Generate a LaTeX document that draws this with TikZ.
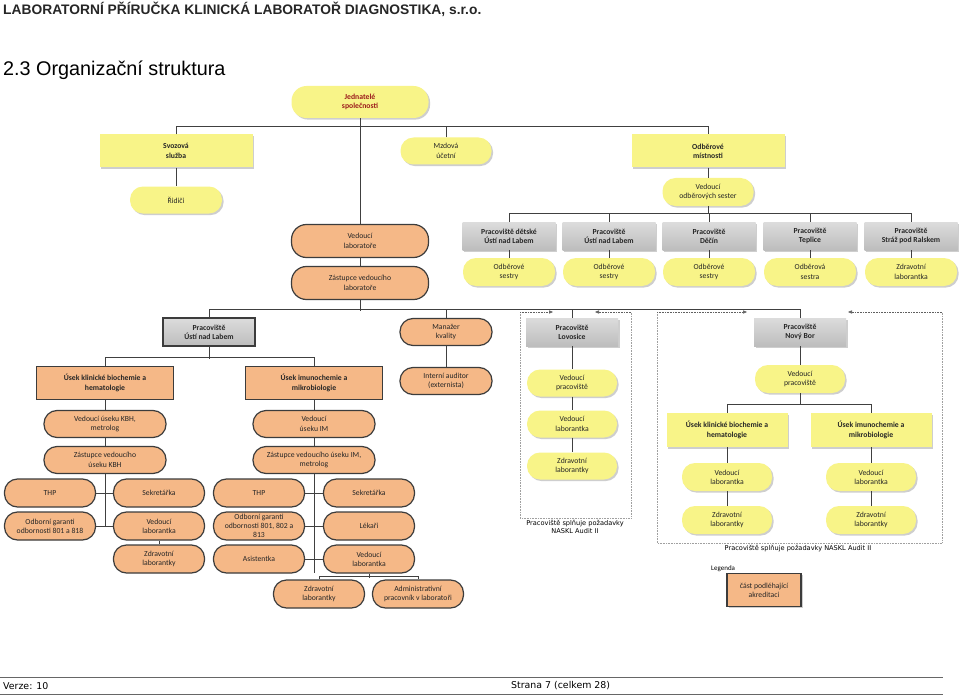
\documentclass[tikz,border=0pt]{standalone}
\usepackage{fontspec}
\setmainfont{Carlito}
\newfontfamily\hdfont{Liberation Sans}
\newfontfamily\ftfont{DejaVu Sans}
\usepackage{tikz}
\usepackage{xcolor}
\usetikzlibrary{arrows.meta,shadows}
\definecolor{yel}    {HTML}{F8F488}
\definecolor{org}    {HTML}{F5B887}
\definecolor{edge}   {HTML}{3C3C3C}
\definecolor{gtop}   {HTML}{DCDCDC}
\definecolor{gbot}   {HTML}{BDBDBD}
\definecolor{wine}   {HTML}{9C1C1C}
\definecolor{wire}   {HTML}{404040}
\definecolor{frame}  {HTML}{A0A0A0}

\tikzset{
  box/.style={align=center,inner sep=1pt,text=black!85,
              font=\fontsize{7.7}{9.3}\selectfont,
              minimum width=92pt,minimum height=28pt},
  softshadow/.style={drop shadow={shadow xshift=1.6pt,shadow yshift=-1.6pt,
              opacity=.35,fill=black!55}},
  yround/.style={box,fill=yel,rounded corners=13pt,softshadow},
  yrect/.style={box,fill=yel,font=\fontsize{7.7}{9.3}\selectfont\bfseries,softshadow},
  oround/.style={box,fill=org,draw=edge,line width=1.2pt,rounded corners=13pt},
  orect/.style={box,fill=org,draw=edge,line width=1.2pt,
              font=\fontsize{7.7}{9.3}\selectfont\bfseries},
  gfill/.style={box,top color=gtop,bottom color=gbot,
              font=\fontsize{7.7}{9.3}\selectfont\bfseries},
  gbox/.style={gfill,softshadow},
  link/.style={draw=wire,line width=0.8pt},
  dotframe/.style={draw=frame,densely dotted,line width=0.6pt},
  dotarrow/.style={dotframe,-{Triangle[length=4pt,width=3.2pt]},color=frame!60!black},
  note/.style={align=center,inner sep=0pt,font=\ftfont\fontsize{6.6}{8.4}\selectfont}
}

\begin{document}
\begin{tikzpicture}[x=1pt,y=-1pt]
\useasboundingbox[fill=white] (0,0) rectangle (960,695);

% header and title
\node[anchor=west,inner sep=0pt,text=black!85,
      font=\hdfont\bfseries\fontsize{13.8}{16}\selectfont] (hdr) at (3,9)
  {LABORATORNÍ PŘÍRUČKA KLINICKÁ LABORATOŘ DIAGNOSTIKA, s.r.o.};
\node[anchor=west,inner sep=0pt,font=\hdfont\fontsize{19.8}{23}\selectfont] (ttl) at (3,70)
  {2.3 Organizační struktura};

% top level
\node[yround,minimum width=137pt,minimum height=32pt,rounded corners=15pt,
      text=wine,font=\fontsize{7.7}{9.3}\selectfont\bfseries] (jed) at (360,102)
  {Jednatelé\\společnosti};
\node[yrect,minimum width=153pt,minimum height=33pt] (svoz) at (176,151) {Svozová\\služba};
\node[yround,minimum width=91pt,minimum height=27pt] (mzd) at (446,151) {Mzdová\\účetní};
\node[yrect,minimum width=153pt,minimum height=33pt] (odb) at (708,151) {Odběrové\\místnosti};
\node[yround,minimum height=27pt] (rid) at (176,200) {Řidiči};
\node[yround,minimum width=91pt] (vsest) at (708,192) {Vedoucí\\odběrových sester};

% odberova pracoviste
\node[gbox,minimum width=93pt] (pdet) at (509,236) {Pracoviště dětské\\Ústí nad Labem};
\node[gbox,minimum width=93pt] (pust) at (609,236) {Pracoviště\\Ústí nad Labem};
\node[gbox,minimum width=93pt] (pdec) at (709,236) {Pracoviště\\Děčín};
\node[gbox,minimum width=93pt] (ptep) at (810,236) {Pracoviště\\Teplice};
\node[gbox,minimum width=93pt] (pstr) at (911,236) {Pracoviště\\Stráž pod Ralskem};
\node[yround] (sdet) at (509,272) {Odběrové\\sestry};
\node[yround] (sust) at (609,272) {Odběrové\\sestry};
\node[yround] (sdec) at (709,272) {Odběrové\\sestry};
\node[yround] (step) at (810,272) {Odběrová\\sestra};
\node[yround] (sstr) at (911,272) {Zdravotní\\laborantka};

% laborator
\node[oround,minimum width=137pt,minimum height=33pt,rounded corners=15pt] (vlab) at (360,241)
  {Vedoucí\\laboratoře};
\node[oround,minimum width=137pt,minimum height=33pt,rounded corners=15pt] (zlab) at (360,283)
  {Zástupce vedoucího\\laboratoře};
\node[gfill,draw=edge,line width=1.2pt] (usti) at (209,332) {Pracoviště\\Ústí nad Labem};
\node[oround,minimum height=27pt] (man) at (446,332) {Manažer\\kvality};
\node[oround,minimum height=27pt] (aud) at (446,381) {Interní auditor\\(externista)};
\node[gbox] (lov) at (572,332) {Pracoviště\\Lovosice};
\node[gbox] (nbor) at (800,332) {Pracoviště\\Nový Bor};

% usti nad labem
\node[orect,minimum width=137pt,minimum height=33pt] (kbh) at (105,383)
  {Úsek klinické biochemie a\\hematologie};
\node[orect,minimum width=137pt,minimum height=33pt] (imu) at (314,383)
  {Úsek imunochemie a\\mikrobiologie};
\node[oround,minimum width=122pt,minimum height=27pt] (vkbh) at (105,424) {Vedoucí úseku KBH,\\metrolog};
\node[oround,minimum width=122pt,minimum height=27pt] (vimu) at (314,424) {Vedoucí\\úseku IM};
\node[oround,minimum width=122pt,minimum height=27pt] (zkbh) at (105,460) {Zástupce vedoucího\\úseku KBH};
\node[oround,minimum width=122pt,minimum height=27pt] (zimu) at (314,460) {Zástupce vedoucího úseku IM,\\metrolog};
\node[oround,minimum width=91pt] (thpa) at (50,493)  {THP};
\node[oround,minimum width=91pt] (seka) at (159,493) {Sekretářka};
\node[oround,minimum width=91pt] (thpb) at (259,493) {THP};
\node[oround,minimum width=91pt] (sekb) at (369,493) {Sekretářka};
\node[oround,minimum width=91pt] (oga)  at (50,526)  {Odborní garanti\\odbornosti 801 a 818};
\node[oround,minimum width=91pt] (vla)  at (159,526) {Vedoucí\\laborantka};
\node[oround,minimum width=91pt] (ogb)  at (259,526) {Odborní garanti\\odbornosti 801, 802 a\\813};
\node[oround,minimum width=91pt] (lek)  at (369,526) {Lékaři};
\node[oround,minimum width=91pt] (zla)  at (159,559) {Zdravotní\\laborantky};
\node[oround,minimum width=91pt] (asi)  at (259,559) {Asistentka};
\node[oround,minimum width=91pt] (vlb)  at (369,559) {Vedoucí\\laborantka};
\node[oround,minimum width=91pt] (zlb)  at (319,594) {Zdravotní\\laborantky};
\node[oround,minimum width=91pt] (adm)  at (418,594) {Administrativní\\pracovník v laboratoři};

% lovosice
\node[yround,minimum width=90pt,minimum height=27pt] (lovved) at (572,383) {Vedoucí\\pracoviště};
\node[yround,minimum width=90pt,minimum height=27pt] (lovvl)  at (572,424) {Vedoucí\\laborantka};
\node[yround,minimum width=90pt,minimum height=27pt] (lovzl)  at (572,466) {Zdravotní\\laborantky};

% novy bor
\node[yround,minimum width=90pt] (nbved) at (800,379) {Vedoucí\\pracoviště};
\node[yrect,minimum width=121pt,minimum height=34pt] (nbkbh) at (727,430) {Úsek klinické biochemie a\\hematologie};
\node[yrect,minimum width=121pt,minimum height=34pt] (nbimu) at (871,430) {Úsek imunochemie a\\mikrobiologie};
\node[yround,minimum width=90pt] (nbvla) at (727,477) {Vedoucí\\laborantka};
\node[yround,minimum width=90pt] (nbzla) at (727,520) {Zdravotní\\laborantky};
\node[yround,minimum width=90pt] (nbvlb) at (871,477) {Vedoucí\\laborantka};
\node[yround,minimum width=90pt] (nbzlb) at (871,520) {Zdravotní\\laborantky};

% connectors
\draw[link] (svoz.north) -- ++(0,-8) -| (odb.north);
\draw[link] (mzd.north) -- ++(0,-11);
\draw[link] (jed) -- (vlab);
\draw[link] (svoz) -- (rid);
\draw[link] (odb) -- (vsest);
\draw[link] (vsest.south) -- ++(0,8);
\draw[link] (pdet.north) -- ++(0,-8) -| (pstr.north);
\draw[link] (pust.north) -- ++(0,-8);
\draw[link] (pdec.north) -- ++(0,-8);
\draw[link] (ptep.north) -- ++(0,-8);
\draw[link] (pdet) -- (sdet);
\draw[link] (pust) -- (sust);
\draw[link] (pdec) -- (sdec);
\draw[link] (ptep) -- (step);
\draw[link] (pstr) -- (sstr);
\draw[link] (vlab) -- (zlab);
\draw[link] (zlab.south) -- ++(0,11);
\draw[link] (usti.north) -- ++(0,-8) -| (nbor.north);
\draw[link] (man.north) -- ++(0,-8);
\draw[link] (lov.north) -- ++(0,-8);
\draw[link] (man) -- (aud);
\draw[link] (usti.south) -- ++(0,12);
\draw[link] (kbh.north) -- ++(0,-9) -| (imu.north);
\draw[link] (kbh) -- (vkbh);
\draw[link] (vkbh) -- (zkbh);
\draw[link] (imu) -- (vimu);
\draw[link] (vimu) -- (zimu);
\draw[link] (zkbh.south) -- ++(0,52);
\draw[link] (thpa) -- (seka);
\draw[link] (oga) -- (vla);
\draw[link] (vla) -- (zla);
\draw[link] (zimu.south) -- ++(0,99);
\draw[link] (thpb) -- (sekb);
\draw[link] (ogb) -- (lek);
\draw[link] (asi) -- (vlb);
\draw[link] (vlb.south) -- ++(0,4);
\draw[link] (zlb.north) -- ++(0,-3) -| (adm.north);
\draw[link] (lov) -- (lovved);
\draw[link] (lovved) -- (lovvl);
\draw[link] (lovvl) -- (lovzl);
\draw[link] (nbor) -- (nbved);
\draw[link] (nbved.south) -- ++(0,12);
\draw[link] (nbkbh.north) -- ++(0,-8) -| (nbimu.north);
\draw[link] (nbkbh) -- (nbvla);
\draw[link] (nbvla) -- (nbzla);
\draw[link] (nbimu) -- (nbvlb);
\draw[link] (nbvlb) -- (nbzlb);

% NASKL frames
\coordinate (lovtl) at (520,312);
\coordinate (lovbr) at (631,518);
\draw[dotframe] (lovtl) |- (lovbr) -- (lovbr |- lovtl);
\draw[dotarrow] (lovtl) -- ++(33,0);
\draw[dotarrow] (lovbr |- lovtl) -- ++(-36,0);
\coordinate (nbtl) at (657,312);
\coordinate (nbbr) at (942,543);
\draw[dotframe] (nbtl) |- (nbbr) -- (nbbr |- nbtl);
\draw[dotarrow] (nbtl) -- ++(90,0);
\draw[dotarrow] (nbbr |- nbtl) -- ++(-94,0);
\node[note] (lovnote) at (575,527) {Pracoviště splňuje požadavky\\NASKL Audit II};
\node[note] (nbnote) at (798,549) {Pracoviště splňuje požadavky NASKL Audit II};

% legend
\node[anchor=west,inner sep=0pt,font=\fontsize{7}{8}\selectfont] (leg) at (711,569) {Legenda};
\node[box,fill=org,draw=edge,line width=1.2pt,minimum width=74pt,minimum height=33pt,
      softshadow] (legbox) at (764,590) {část podléhající\\akreditaci};

% footer
\draw[draw=black!60,line width=1pt] (0,677) -- (943,677);
\draw[draw=black!60,line width=1pt] (0,694) -- (943,694);
\node[anchor=west,inner sep=0pt,font=\ftfont\fontsize{9.4}{11}\selectfont] (ver) at (3,686) {Verze: 10};
\node[anchor=west,inner sep=0pt,font=\ftfont\fontsize{9.4}{11}\selectfont] (pg) at (511,686) {Strana 7 (celkem 28)};
\end{tikzpicture}
\end{document}
